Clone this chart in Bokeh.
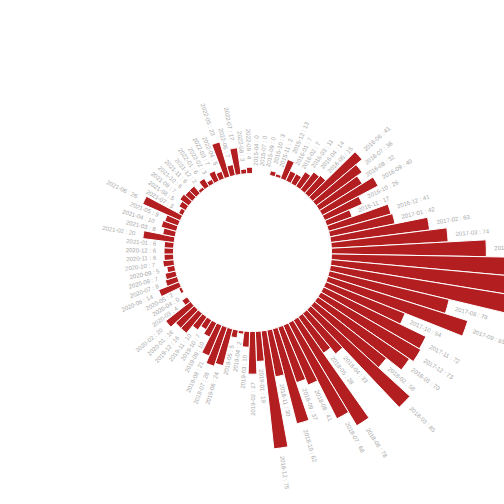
import math
from bokeh.plotting import figure
from bokeh.models import ColumnDataSource
from bokeh.core.properties import value
from bokeh.embed import file_html
from bokeh.resources import INLINE

months = ["2015-04", "2015-07", "2015-09", "2015-10", "2015-11", "2015-12",
          "2016-01", "2016-02", "2016-03", "2016-04", "2016-05", "2016-06",
          "2016-07", "2016-08", "2016-09", "2016-10", "2016-11", "2016-12",
          "2017-01", "2017-02", "2017-03", "2017-04", "2017-05", "2017-06",
          "2017-07", "2017-08", "2017-09", "2017-10", "2017-11", "2017-12",
          "2018-01", "2018-02", "2018-03", "2018-04", "2018-05", "2018-06",
          "2018-07", "2018-08", "2018-09", "2018-10", "2018-11", "2018-12",
          "2019-01", "2019-02", "2019-03", "2019-04", "2019-05", "2019-06",
          "2019-07", "2019-08", "2019-09", "2019-10", "2019-11", "2019-12",
          "2020-01", "2020-02", "2020-03", "2020-04", "2020-05", "2020-06",
          "2020-07", "2020-08", "2020-09", "2020-10", "2020-11", "2020-12",
          "2021-01", "2021-02", "2021-03", "2021-04", "2021-05", "2021-06",
          "2021-07", "2021-08", "2021-09", "2021-10", "2021-11", "2021-12",
          "2022-01", "2022-02", "2022-03", "2022-04", "2022-05", "2022-06",
          "2022-07", "2022-08", "2022-09"]
counts = [0, 0, 0, 3, 2, 13,
          7, 7, 11, 14, 15, 41,
          36, 32, 40, 26, 17, 41,
          42, 63, 74, 98, 130, 125,
          118, 78, 93, 54, 72, 73,
          70, 58, 85, 33, 28, 78,
          68, 41, 37, 62, 30, 75,
          19, 27, 10, 2, 5, 24,
          26, 21, 10, 7, 10, 16,
          16, 20, 4, 0, 2, 14,
          8, 7, 5, 7, 6, 6,
          6, 20, 8, 10, 9, 26,
          3, 5, 7, 6, 6, 2,
          6, 3, 7, 5, 23, 7,
          17, 3, 4]

W = H = 504
cx, cy = 252, 252
r0 = 79.0
k = 1.58
gap = 8.0

n = len(months)
step = 2 * math.pi / n
starts, ends, outer, lx, ly, la, lal, labels = [], [], [], [], [], [], [], []
for i, (m, v) in enumerate(zip(months, counts)):
    a0 = i * step
    a1 = (i + 1) * step
    ac = (i + 0.5) * step
    starts.append(math.pi / 2 - a1)
    ends.append(math.pi / 2 - a0)
    ro = r0 + k * v
    outer.append(ro)
    rl = ro + gap
    th = math.pi / 2 - ac
    lx.append(cx + rl * math.cos(th))
    ly.append(cy + rl * math.sin(th))
    if ac < math.pi:
        la.append(th)
        lal.append("left")
    else:
        la.append(th + math.pi)
        lal.append("right")
    labels.append(f"{m} : {v}")

src = ColumnDataSource(dict(start=starts, end=ends, outer=outer,
                            inner=[r0] * n, x=[cx] * n, y=[cy] * n,
                            lx=lx, ly=ly, la=la, lal=lal, label=labels))

p = figure(width=W, height=H, x_range=(0, W), y_range=(0, H),
           output_backend="svg", toolbar_location=None, min_border=0)
p.axis.visible = False
p.grid.visible = False
p.outline_line_color = None
p.background_fill_color = "white"
p.border_fill_color = "white"

p.annular_wedge(x="x", y="y", inner_radius="inner", outer_radius="outer",
                start_angle="start", end_angle="end", source=src,
                fill_color="#b31e21", line_color="white", line_width=1)

p.text(x="lx", y="ly", text="label", angle="la", text_align="lal",
       text_baseline="middle", source=src, text_color="#a8a8a8",
       text_font_size="6px", text_font=value("Liberation Sans"))

open("out.html", "w").write(file_html(p, INLINE))
